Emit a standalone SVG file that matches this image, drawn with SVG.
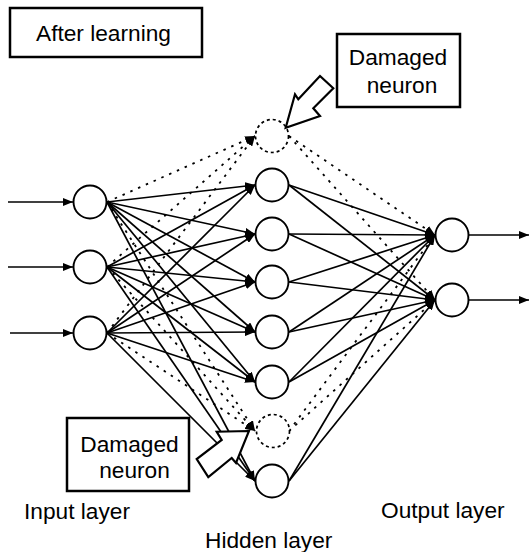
<svg xmlns="http://www.w3.org/2000/svg" width="529" height="552" viewBox="0 0 529 552">
<style>
.node{fill:#fff;stroke:#000;stroke-width:1.9}
.dnode{fill:#fff;stroke:#000;stroke-width:1.7;stroke-dasharray:3 3}
.c{stroke:#000;stroke-width:1.7;fill:none}
.d{stroke:#000;stroke-width:1.8;fill:none;stroke-dasharray:2.5 6}
.box{fill:#fff;stroke:#000;stroke-width:2.5}
.blk{fill:#fff;stroke:#000;stroke-width:2.2;stroke-linejoin:miter}
text{font-family:"Liberation Sans",Arial,sans-serif;font-size:22.7px;fill:#000}
</style>
<defs>
<marker id="ah" viewBox="0 0 10 8" refX="10" refY="4" markerWidth="10" markerHeight="8" markerUnits="userSpaceOnUse" orient="auto">
<path d="M0,0 L10,4 L0,8 z" fill="#000"/>
</marker>
</defs>
<rect width="529" height="552" fill="#fff"/>
<g id="connectors" marker-end="url(#ah)">
<line class="c" x1="8" y1="202" x2="73" y2="202"/>
<line class="c" x1="8" y1="267" x2="73" y2="267"/>
<line class="c" x1="10" y1="333" x2="73" y2="333"/>
<line class="c" x1="469" y1="235" x2="529" y2="235"/>
<line class="c" x1="469" y1="300" x2="529" y2="300"/>
<line class="d" x1="107" y1="202" x2="255" y2="136"/>
<line class="d" x1="107" y1="267" x2="255" y2="136"/>
<line class="d" x1="107" y1="333" x2="255" y2="136"/>
<line class="d" x1="107" y1="202" x2="255" y2="431"/>
<line class="d" x1="107" y1="267" x2="255" y2="431"/>
<line class="d" x1="107" y1="333" x2="255" y2="431"/>
<line class="c" x1="107" y1="202" x2="255" y2="185"/>
<line class="c" x1="107" y1="202" x2="255" y2="234"/>
<line class="c" x1="107" y1="202" x2="255" y2="282"/>
<line class="c" x1="107" y1="202" x2="255" y2="332"/>
<line class="c" x1="107" y1="202" x2="255" y2="382"/>
<line class="c" x1="107" y1="202" x2="255" y2="481"/>
<line class="c" x1="107" y1="267" x2="255" y2="185"/>
<line class="c" x1="107" y1="267" x2="255" y2="234"/>
<line class="c" x1="107" y1="267" x2="255" y2="282"/>
<line class="c" x1="107" y1="267" x2="255" y2="332"/>
<line class="c" x1="107" y1="267" x2="255" y2="382"/>
<line class="c" x1="107" y1="267" x2="255" y2="481"/>
<line class="c" x1="107" y1="333" x2="255" y2="185"/>
<line class="c" x1="107" y1="333" x2="255" y2="234"/>
<line class="c" x1="107" y1="333" x2="255" y2="282"/>
<line class="c" x1="107" y1="333" x2="255" y2="332"/>
<line class="c" x1="107" y1="333" x2="255" y2="382"/>
<line class="c" x1="107" y1="333" x2="255" y2="481"/>
<line class="d" x1="289" y1="136" x2="435" y2="235"/>
<line class="d" x1="289" y1="136" x2="435" y2="300"/>
<line class="d" x1="289" y1="431" x2="435" y2="235"/>
<line class="d" x1="289" y1="431" x2="435" y2="300"/>
<line class="c" x1="289" y1="185" x2="435" y2="235"/>
<line class="c" x1="289" y1="185" x2="435" y2="300"/>
<line class="c" x1="289" y1="234" x2="435" y2="235"/>
<line class="c" x1="289" y1="234" x2="435" y2="300"/>
<line class="c" x1="289" y1="282" x2="435" y2="235"/>
<line class="c" x1="289" y1="282" x2="435" y2="300"/>
<line class="c" x1="289" y1="332" x2="435" y2="235"/>
<line class="c" x1="289" y1="332" x2="435" y2="300"/>
<line class="c" x1="289" y1="382" x2="435" y2="235"/>
<line class="c" x1="289" y1="382" x2="435" y2="300"/>
<line class="c" x1="289" y1="481" x2="435" y2="235"/>
<line class="c" x1="289" y1="481" x2="435" y2="300"/>
</g>
<g id="input1"><circle class="node" cx="90" cy="202" r="16.5"/></g>
<g id="input2"><circle class="node" cx="90" cy="267" r="16.5"/></g>
<g id="input3"><circle class="node" cx="90" cy="333" r="16.5"/></g>
<g id="hidden-damaged1"><circle class="dnode" cx="272" cy="136" r="16.5"/></g>
<g id="hidden1"><circle class="node" cx="272" cy="185" r="16.5"/></g>
<g id="hidden2"><circle class="node" cx="272" cy="234" r="16.5"/></g>
<g id="hidden3"><circle class="node" cx="272" cy="282" r="16.5"/></g>
<g id="hidden4"><circle class="node" cx="272" cy="332" r="16.5"/></g>
<g id="hidden5"><circle class="node" cx="272" cy="382" r="16.5"/></g>
<g id="hidden-damaged2"><circle class="dnode" cx="273" cy="431" r="16.5"/></g>
<g id="hidden6"><circle class="node" cx="272" cy="481" r="16.5"/></g>
<g id="output1"><circle class="node" cx="452" cy="235" r="16.5"/></g>
<g id="output2"><circle class="node" cx="452" cy="300" r="16.5"/></g>
<g id="title">
<rect class="box" x="10" y="8" width="192" height="49"/>
<text x="36" y="41">After learning</text>
</g>
<g id="damaged-label-top">
<rect class="box" x="337" y="34" width="123" height="73"/>
<text x="398" y="65" text-anchor="middle">Damaged</text>
<text x="402" y="93" text-anchor="middle">neuron</text>
<polygon class="blk" points="285.7,127.7 295,94.3 298.3,99.3 320,76 333.3,88.3 313.3,108.3 320,116"/>
</g>
<g id="damaged-label-bottom">
<rect class="box" x="67" y="418" width="122" height="73"/>
<text x="129.5" y="452" text-anchor="middle">Damaged</text>
<text x="134.5" y="478" text-anchor="middle">neuron</text>
<polygon class="blk" points="249,431 216.7,431.7 221.7,440 196.7,459 208.3,477 231.7,458 236,463"/>
</g>
<g id="layer-labels">
<text x="24" y="519">Input layer</text>
<text x="205" y="548">Hidden layer</text>
<text x="381" y="518">Output layer</text>
</g>
</svg>
